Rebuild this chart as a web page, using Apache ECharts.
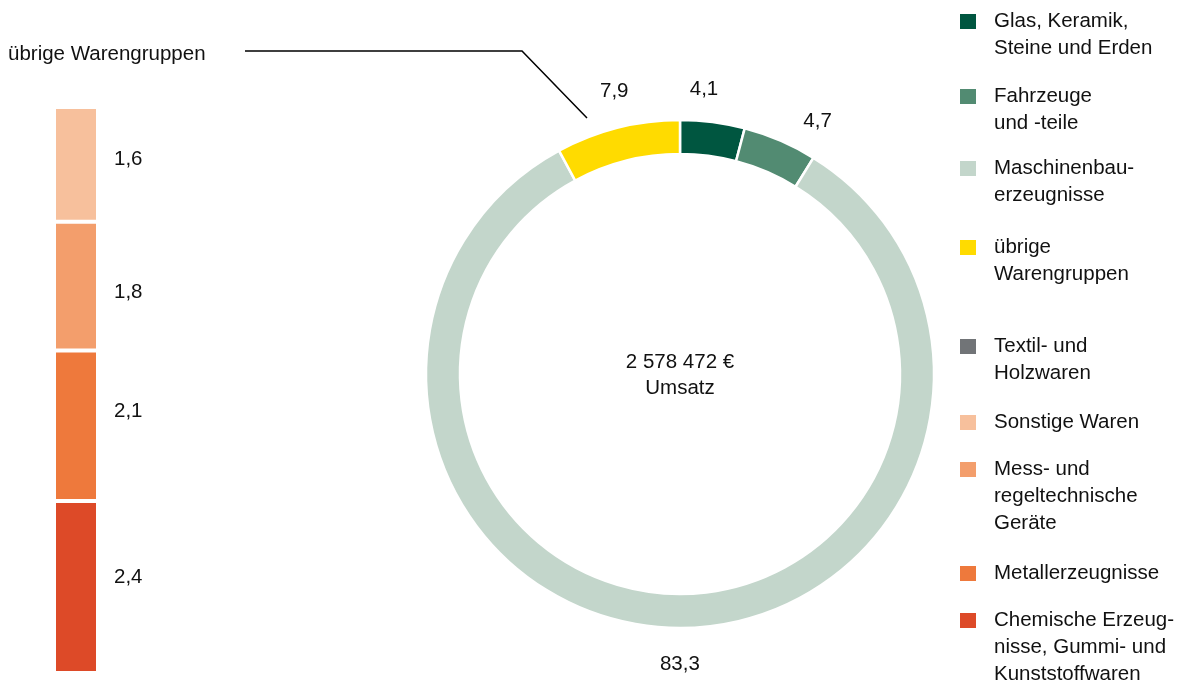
<!DOCTYPE html>
<html>
<head>
<meta charset="utf-8">
<script src="https://cdn.jsdelivr.net/npm/echarts@6/dist/echarts.min.js"></script>
<style>
html,body{margin:0;padding:0;background:#fff;}
#chart{width:1190px;height:686px;}
</style>
</head>
<body>
<div id="chart"></div>
<script>
// ---- data ----
const pieNames = ['Glas, Keramik, Steine und Erden', 'Fahrzeuge und -teile', 'Maschinenbauerzeugnisse', 'übrige Warengruppen'];
const pieValues = [4.1, 4.7, 83.3, 7.9];
const barNames = ['Chemische Erzeugnisse, Gummi- und Kunststoffwaren', 'Metallerzeugnisse', 'Mess- und regeltechnische Geräte', 'Sonstige Waren', 'Textil- und Holzwaren'];
const barValues = [2.4, 2.1, 1.8, 1.6, 0];
const centerLines = ['2 578 472 €', 'Umsatz'];
const calloutText = 'übrige Warengruppen';

// ---- styles ----
const pieColors = ['#005640', '#528B72', '#C3D6CB', '#FFDB00'];
const barColors = ['#DD4A28', '#EE793C', '#F39E6C', '#F7C09C', '#717477'];
const FONT = 'Liberation Sans, Arial, sans-serif';
const FS = 20.5;
const LH = 27;
const TXT = '#111';
const pieLabelShift = [[-13, 1], [24, 12], [8, 2], [5, -3]];
const barLabelShift = [-10, -14, 6, -5, 0];

// legend entries: name, wrapped label, icon top
const legendEntries = [
  [pieNames[0], 'Glas, Keramik,\nSteine und Erden', 12],
  [pieNames[1], 'Fahrzeuge\nund -teile', 87],
  [pieNames[2], 'Maschinenbau-\nerzeugnisse', 159],
  [pieNames[3], 'übrige\nWarengruppen', 238],
  [barNames[4], 'Textil- und\nHolzwaren', 337],
  [barNames[3], 'Sonstige Waren', 413],
  [barNames[2], 'Mess- und\nregeltechnische\nGeräte', 460],
  [barNames[1], 'Metallerzeugnisse', 564],
  [barNames[0], 'Chemische Erzeug-\nnisse, Gummi- und\nKunststoffwaren', 611]
];
const ICON_W = 18, ICON_H = 17;
const legends = legendEntries.map(function (e) {
  const n = e[1].split('\n').length;
  const txt = '\n'.repeat(n - 1) + e[1];
  const blockTop = Math.min(0, ICON_H / 2 - (2 * n - 1) * LH / 2);
  return {
    data: [e[0]],
    left: 958,
    top: e[2] + blockTop + 1,
    padding: 0,
    orient: 'vertical',
    icon: 'rect',
    itemWidth: ICON_W,
    itemHeight: ICON_H,
    selectedMode: false,
    formatter: function () { return txt; },
    textStyle: {
      fontFamily: FONT, fontSize: FS, lineHeight: LH, color: TXT,
      padding: [0, 0, 0, 12]
    }
  };
});

const barSeries = barNames.map(function (name, i) {
  return {
    type: 'bar',
    name: name,
    stack: 'rest',
    xAxisIndex: 0, yAxisIndex: 0,
    barWidth: 44,
    data: [barValues[i]],
    itemStyle: { color: barColors[i], borderColor: '#fff', borderWidth: 2 },
    label: {
      show: true, position: 'right', distance: 16, offset: [0, barLabelShift[i]],
      fontFamily: FONT, fontSize: FS, color: TXT,
      formatter: function (p) { return p.value ? String(p.value).replace('.', ',') : ''; }
    },
    emphasis: { disabled: true }
  };
});

const chart = echarts.init(document.getElementById('chart'), null, { renderer: 'canvas' });
chart.setOption({
  animation: false,
  backgroundColor: '#fff',
  color: pieColors.concat(barColors),
  legend: legends,
  grid: { left: 54, top: 107, width: 44, bottom: 13, containLabel: false },
  xAxis: { type: 'category', data: [''], show: false },
  yAxis: { type: 'value', min: 0, max: 7.9, show: false },
  title: {
    text: calloutText, left: 8, top: 44, padding: 0,
    textStyle: { fontFamily: FONT, fontSize: FS, fontWeight: 'normal', color: TXT }
  },
  graphic: [
    {
      type: 'polyline',
      shape: { points: [[245, 51], [522, 51], [587, 118]] },
      style: { stroke: '#000', lineWidth: 1.5, fill: null }
    },
    {
      type: 'text', x: 680, y: 375,
      style: {
        text: centerLines.join('\n'), align: 'center', verticalAlign: 'middle',
        font: FS + 'px ' + FONT, lineHeight: 26, fill: TXT
      }
    }
  ],
  series: [
    {
      type: 'pie',
      name: 'Umsatz',
      center: [680, 374],
      radius: [220, 254],
      startAngle: 90,
      clockwise: true,
      avoidLabelOverlap: false,
      data: pieNames.map(function (n, i) { return { name: n, value: pieValues[i], itemStyle: { color: pieColors[i] } }; }),
      itemStyle: { borderColor: '#fff', borderWidth: 2.5 },
      label: {
        show: true, position: 'outside', distanceToLabelLine: 0,
        fontFamily: FONT, fontSize: FS, color: TXT,
        formatter: function (p) { return String(p.value).replace('.', ','); }
      },
      labelLine: { show: false, length: 34, length2: 0 },
      labelLayout: function (p) {
        const s = pieLabelShift[p.dataIndex];
        return { align: 'center', verticalAlign: 'middle', dx: s[0], dy: s[1] };
      },
      emphasis: { disabled: true }
    }
  ].concat(barSeries)
});
</script>
</body>
</html>
